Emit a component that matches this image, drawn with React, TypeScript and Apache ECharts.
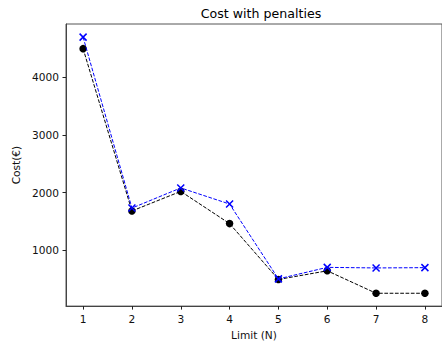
import React, { useEffect, useRef } from "react";
import * as echarts from "echarts";

const limits = [1, 2, 3, 4, 5, 6, 7, 8];
const cost = [4500, 1680, 2020, 1460, 490, 640, 250, 250];
const costWithPenalties = [4700, 1730, 2080, 1800, 500, 700, 690, 695];
const yTicks = [1000, 2000, 3000, 4000];
const xTicks = [1, 2, 3, 4, 5, 6, 7, 8];

const FONT = "DejaVu Sans";

export default function App() {
  const ref = useRef<HTMLDivElement>(null);
  useEffect(() => {
    if (!ref.current) return;
    const chart = echarts.init(ref.current, undefined, { renderer: "svg" });
    const axisCommon = {
      axisLine: { show: true, lineStyle: { color: "#444", width: 1 } },
      axisTick: { show: true, length: 3.5, lineStyle: { color: "#222", width: 1 } },
      splitLine: { show: false },
    };
    const labelStyle = { fontFamily: FONT, fontSize: 10.6, color: "#111" };
    chart.setOption({
      animation: false,
      title: {
        text: "Cost with penalties",
        left: 256,
        top: 2,
        textAlign: "center",
        textStyle: { fontFamily: FONT, fontSize: 12.6, fontWeight: "normal", color: "#000" },
      },
      grid: {
        left: 66,
        top: 24,
        width: 381,
        height: 284,
        containLabel: false,
        show: true,
        borderColor: "#555",
        borderWidth: 1,
        backgroundColor: "transparent",
      },
      xAxis: {
        type: "value",
        min: 0.65,
        max: 8.35,
        name: "Limit (N)",
        nameLocation: "middle",
        nameGap: 22,
        nameTextStyle: labelStyle,
        ...axisCommon,
        axisTick: { ...axisCommon.axisTick, customValues: xTicks },
        axisLabel: {
          customValues: xTicks,
          margin: 7,
          formatter: (v: number) => String(v),
          ...labelStyle,
        },
      },
      yAxis: {
        type: "value",
        min: 27,
        max: 4928,
        name: "Cost(€)",
        nameLocation: "middle",
        nameGap: 35,
        nameTextStyle: labelStyle,
        ...axisCommon,
        axisTick: { ...axisCommon.axisTick, customValues: yTicks },
        axisLabel: {
          customValues: yTicks,
          margin: 7,
          formatter: (v: number) => String(v),
          ...labelStyle,
        },
      },
      series: [
        {
          name: "Cost",
          type: "line",
          data: limits.map((x, i) => [x, cost[i]]),
          symbol: "circle",
          symbolSize: 7.5,
          showAllSymbol: true,
          itemStyle: { color: "#000" },
          lineStyle: { color: "#000", width: 1, type: [3.7, 1.6] },
          z: 2,
        },
        {
          name: "Cost with penalties",
          type: "line",
          data: limits.map((x, i) => [x, costWithPenalties[i]]),
          symbol: "path://M0,0L10,10M10,0L0,10",
          symbolSize: 7,
          showAllSymbol: true,
          itemStyle: { color: "#0000ff", borderColor: "#0000ff", borderWidth: 1.5 },
          lineStyle: { color: "#0000ff", width: 1, type: [3.7, 1.6] },
          z: 3,
        },
      ],
    });
    return () => chart.dispose();
  }, []);
  return (
    <div
      ref={ref}
      style={{ position: "fixed", left: 0, top: 0, width: 442, height: 345, background: "#fff" }}
    />
  );
}
